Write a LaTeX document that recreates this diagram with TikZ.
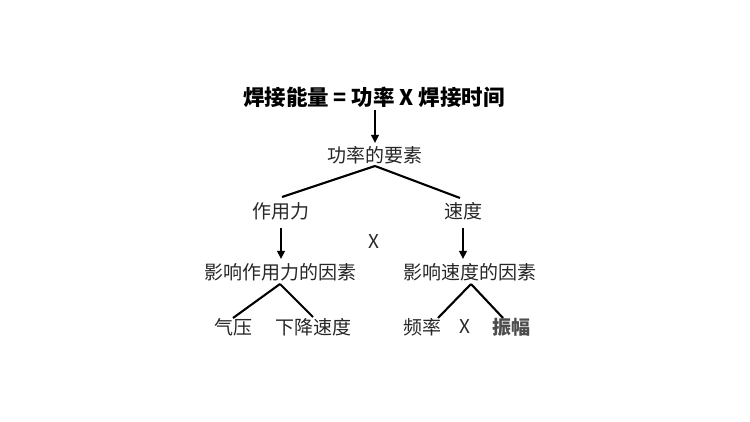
\documentclass[tikz,border=0pt]{standalone}
\usepackage{fontspec}
\setmainfont{Noto Sans CJK SC}
\usetikzlibrary{arrows.meta}
\begin{document}
\begin{tikzpicture}[x=1pt,y=-1pt,
  lbl/.style={inner sep=0pt,text=black!85,font=\fontsize{19}{19}\selectfont},
  ttl/.style={inner sep=0pt,text=black,font=\fontsize{21.5}{21.5}\selectfont\bfseries},
  ln/.style={line width=2.1pt,black},
  arr/.style={line width=2.1pt,black,-{Triangle[length=8pt,width=7.5pt]}}]
\useasboundingbox (0,0) rectangle (750,422);
\node[ttl] (t) at (374,97) {焊接能量 = 功率 X 焊接时间};
\node[lbl] (p) at (375,155) {功率的要素};
\node[lbl] (f) at (281,211) {作用力};
\node[lbl] (v) at (463,211) {速度};
\node[lbl] (x1) at (374,242) {X};
\node[lbl] (ff) at (280,272) {影响作用力的因素};
\node[lbl] (vf) at (470,272) {影响速度的因素};
\node[lbl] (a) at (233,327) {气压};
\node[lbl] (b) at (313,327) {下降速度};
\node[lbl] (c) at (422,327) {频率};
\node[lbl] (x2) at (465,327) {X};
\node[lbl,text=black!70,font=\fontsize{19}{19}\selectfont\bfseries] (d) at (511,327) {振幅};
\coordinate (pa) at (375,166);
\coordinate (fa) at (280,284);
\coordinate (va) at (471,284);
\coordinate (ts) at (375,110);
\coordinate (pn) at (375,143);
\coordinate (fs) at (281,228);
\coordinate (fn) at (281,259);
\coordinate (vs) at (463,228);
\coordinate (vn) at (463,259);
\coordinate (fl) at (282,197);
\coordinate (vr) at (460,198);
\coordinate (al) at (233,318);
\coordinate (br) at (313,317);
\coordinate (cl) at (438,318);
\coordinate (dr) at (503,318);
\draw[arr] (ts) -- (pn);
\draw[ln] (pa) -- (fl);
\draw[ln] (pa) -- (vr);
\draw[arr] (fs) -- (fn);
\draw[arr] (vs) -- (vn);
\draw[ln] (fa) -- (al);
\draw[ln] (fa) -- (br);
\draw[ln] (va) -- (cl);
\draw[ln] (va) -- (dr);
\end{tikzpicture}
\end{document}
